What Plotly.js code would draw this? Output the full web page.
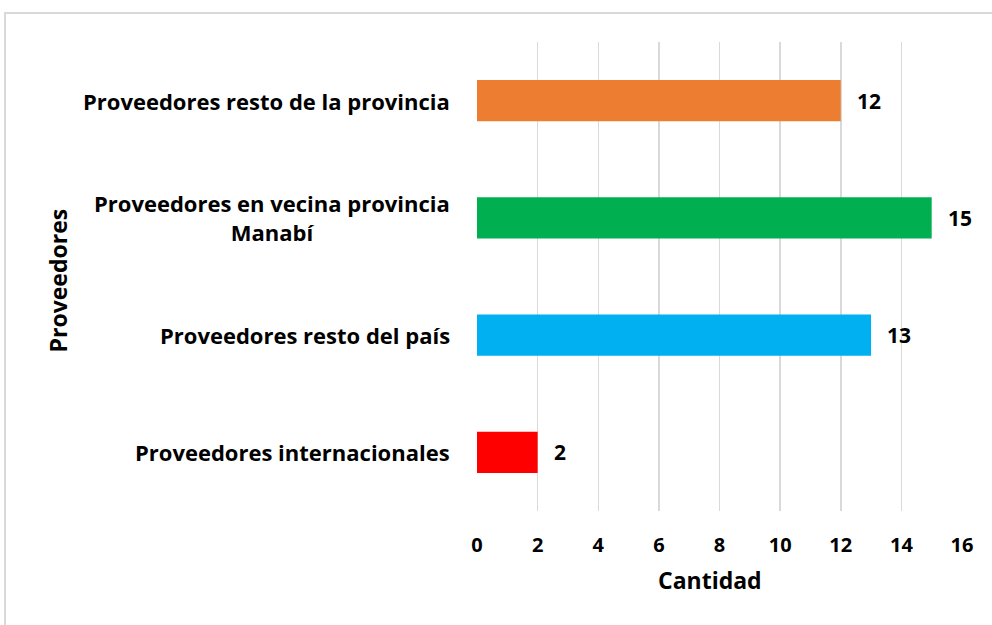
<!DOCTYPE html>
<html>
<head>
<meta charset="utf-8">
<script src="https://cdn.plot.ly/plotly-3.0.1.min.js"></script>
<style>
  html, body { margin: 0; padding: 0; background: #fff; }
  #frame { position: absolute; left: 4px; top: 12px; width: 1000px; height: 700px;
           border-left: 2px solid #d9d9d9; border-top: 2px solid #d9d9d9; }
  #chart { position: absolute; left: 0; top: 0; width: 992px; height: 625px; }
</style>
</head>
<body>
<div id="frame"></div>
<div id="chart"></div>
<script>
const categories = [
  "Proveedores internacionales",
  "Proveedores resto del país",
  "Proveedores en vecina provincia<br>Manabí",
  "Proveedores resto de la provincia"
];
const values = [2, 13, 15, 12];
const barColors = ["#FF0000", "#00B0F0", "#00B050", "#ED7D31"];
const xTicks = [0, 2, 4, 6, 8, 10, 12, 14, 16];
const xTitle = "Cantidad";
const yTitle = "Proveedores";

const FONT = "'Open Sans', sans-serif";

const trace = {
  type: "bar",
  orientation: "h",
  x: values,
  y: categories,
  marker: { color: barColors },
  width: 0.35,
  hoverinfo: "none"
};

const valueLabels = values.map((v, i) => ({
  x: v, y: categories[i], xref: "x", yref: "y",
  text: "<b>" + v + "</b>", showarrow: false,
  xanchor: "left", xshift: 14,
  font: { family: FONT, size: 21, color: "#000" }
}));

const catLabels = categories.map(c => ({
  x: 0, y: c, xref: "paper", yref: "y",
  text: "<b>" + c.replace("<br>", "</b><br><b>") + "</b>", showarrow: false,
  xanchor: "right", align: "center", xshift: -25,
  font: { family: FONT, size: 22, color: "#000" }
}));

const yTitleAnn = {
  x: 0, y: 0.5, xref: "paper", yref: "paper",
  text: "<b>" + yTitle + "</b>", showarrow: false, textangle: -90,
  xanchor: "center", yanchor: "middle", xshift: -420, yshift: -4,
  font: { family: FONT, size: 23, color: "#000" }
};

const xTitleAnn = {
  x: 0.5, y: 0, xref: "paper", yref: "paper",
  text: "<b>" + xTitle + "</b>", showarrow: false,
  xanchor: "center", yanchor: "middle", xshift: -10, yshift: -69,
  font: { family: FONT, size: 23, color: "#000" }
};

const layout = {
  width: 992, height: 625,
  paper_bgcolor: "rgba(0,0,0,0)", plot_bgcolor: "rgba(0,0,0,0)",
  margin: { l: 477, r: 30, t: 42, b: 114 },
  showlegend: false,
  font: { family: FONT, color: "#000" },
  xaxis: {
    range: [0, 16],
    tickvals: xTicks,
    ticktext: xTicks.map(t => "<b>" + t + "</b>"),
    showgrid: true, gridcolor: "#d9d9d9", gridwidth: 1.5,
    zeroline: false, showline: false, ticks: "",
    ticklabelstandoff: 20,
    tickfont: { family: FONT, size: 20, color: "#000" },
    fixedrange: true
  },
  yaxis: {
    type: "category",
    categoryorder: "array", categoryarray: categories,
    showgrid: false, zeroline: false, showline: false, ticks: "",
    showticklabels: false,
    fixedrange: true
  },
  annotations: valueLabels.concat(catLabels, [yTitleAnn, xTitleAnn])
};

Plotly.newPlot("chart", [trace], layout, { displayModeBar: false, staticPlot: true });
</script>
</body>
</html>
